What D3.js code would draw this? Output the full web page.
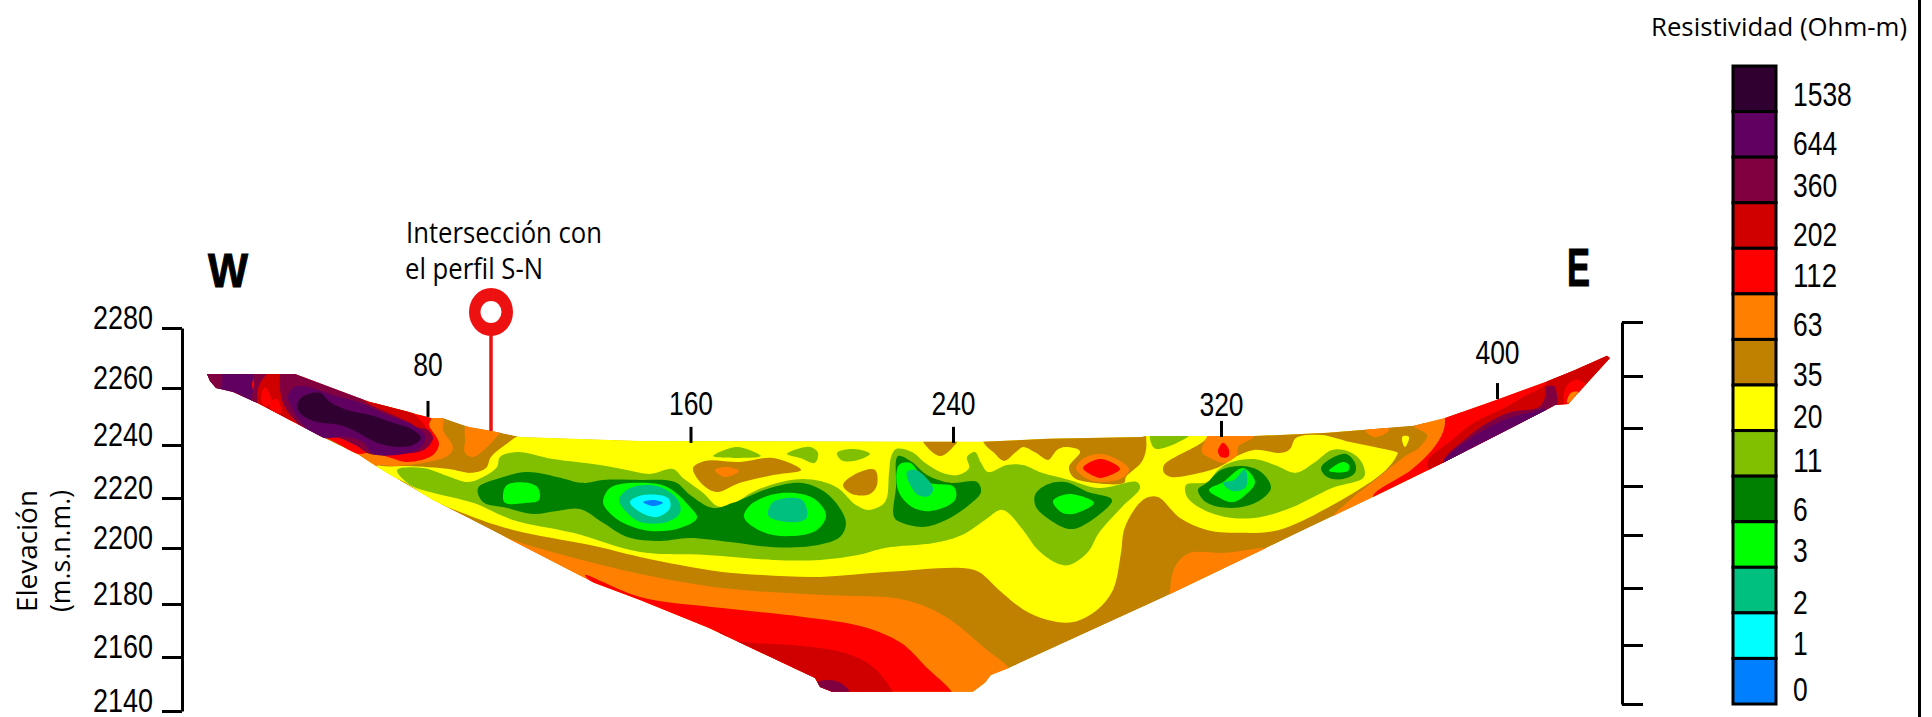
<!DOCTYPE html>
<html><head><meta charset="utf-8">
<style>html,body{margin:0;padding:0;background:#fff;overflow:hidden}svg{display:block}</style>
<script src="https://cdnjs.cloudflare.com/ajax/libs/d3/7.8.5/d3.min.js"></script>
</head><body><div id="chart"></div>
<script>
// Axis values
const elevTicks=[2280,2260,2240,2220,2200,2180,2160,2140];
const distTicks=[80,160,240,320,400];
const surfaceAtTick=[2247.1,2237.5,2237.5,2239.7,2253.7];
const labelElevAtTick=[2262.2,2247.8,2247.8,2247.4,2266.7];
const intersectionDist=99.3, intersectionSurface=2241.9, intersectionTop=2277.5;
// Legend
const levels=[1538,644,360,202,112,63,35,20,11,6,3,2,1,0];
const levelColors=["#300030","#600060","#800040","#d00000","#ff0000","#ff8000","#c08000","#ffff00","#80c000","#008000","#00ff00","#00c080","#00ffff","#0080ff"];
// Section outline [distance m, elevation m]
const sectionOutline=[[14.1,2263],[40.5,2263],[62.7,2252.7],[74.4,2249],[81.3,2246.7],[84.9,2246.7],[92.7,2243.4],[99.6,2241.9],[108,2239.7],[144,2238.2],[228.6,2237.9],[246.9,2237.9],[266.4,2239],[294.6,2239.7],[295.8,2240],[328.2,2240],[350.4,2241.2],[376.2,2243.8],[385.5,2246.7],[400.8,2253.4],[415.8,2260.1],[424.5,2264.5],[434.1,2269.7],[435,2268.9],[422.4,2251.9],[418.5,2251.5],[415.8,2249.7],[384.9,2230.1],[363.9,2217.5],[341.4,2204.2],[300.6,2180.1],[254.7,2154.2],[249.3,2151.6],[247.5,2148.7],[243.9,2145.4],[238.2,2145.4],[207,2145.4],[201.6,2145.4],[198,2147.2],[196.5,2150.5],[164.7,2169],[144,2179.4],[130.2,2185.7],[81.9,2216.4],[66.6,2227.5],[59.7,2233],[48.6,2239.7],[29.1,2252.3],[21.9,2256.3],[16.8,2257.8],[15,2260.4]];
// Contour regions, deep part
const c63Lower=[[84,2214.6],[93.9,2208.2],[105.9,2201.6],[129,2193.4],[144,2189],[168.6,2183.8],[199.2,2181.2],[223.5,2179.4],[235.8,2173.1],[248.1,2160.9],[254.7,2154.2],[258,2146.1],[222,2135],[162,2149.8],[87,2201.6]];
const c63LowerRight=[[298.5,2175.7],[302.4,2180.1],[303.6,2188.6],[305.4,2193.4],[309,2196.8],[319.5,2196.8],[333.6,2198.6],[339,2196],[312,2172]];
const c112Lower=[[127.5,2188.6],[144,2180.5],[168.6,2176.4],[192.9,2173.1],[211.2,2169.4],[222.3,2163.5],[229.8,2154.6],[237.6,2145.3],[240,2138.7],[192,2138.7]];
const c202Lower=[[168,2167.5],[172.2,2164.6],[192.9,2162.3],[205.2,2159.8],[213.9,2154.6],[219.9,2145.3],[222,2138.7],[186,2138.7]];
const c360Lower=[[197.1,2148.7],[202.8,2149.4],[205.8,2147.2],[207,2145.3],[210,2138.7],[196.5,2138.7]];
// Main 20 ohm-m body
const c20Main=[[63,2230.4],[66.6,2228.9],[74.4,2228.9],[86.7,2227.8],[93.3,2226.4],[97.8,2228.2],[99.3,2232.3],[103.5,2236.7],[108.6,2240.8],[120,2244.1],[192,2244.1],[282,2244.1],[342,2244.1],[372,2238.6],[371.4,2233.8],[367.8,2227.5],[350.7,2213.8],[335.7,2205.3],[324.9,2204.2],[314.1,2205.3],[306,2209.7],[299.4,2217.5],[295.8,2217.1],[292.2,2212.7],[289.2,2205.3],[288.3,2196.8],[285.9,2183.1],[281.1,2175.7],[273.9,2171.2],[266.4,2172],[259.2,2175.7],[251.7,2183.1],[245.7,2189.7],[240.6,2191.2],[217.5,2189.7],[198,2187.9],[180.6,2188.6],[168.6,2189.7],[156,2192.3],[144,2195.3],[129,2199.7],[105.9,2205.3],[93.9,2210.1],[81.6,2216.4],[72,2223.8],[60,2227.5]];
// Near-surface 35 ohm-m patches
const c35Notch=[[228.6,2238.6],[234,2232.6],[238.2,2236.3],[239.4,2238.6],[239.4,2242.3],[228.6,2242.3]];
const c35Top=[[246.9,2238.2],[250.2,2233.8],[253.2,2230.8],[256.5,2233.8],[258.9,2236],[262.8,2233.8],[266.4,2231.2],[269.1,2234.9],[271.5,2236],[275.7,2234.9],[276,2233.8],[272.7,2228.6],[273.9,2224.9],[278.4,2223],[289.2,2222.7],[289.8,2224.9],[294.3,2230.1],[295.8,2234.9],[295.8,2241.5],[295.8,2246],[247.5,2246]];
const c35Right=[[312,2244.1],[314.1,2239.7],[301.2,2229.3],[301.2,2226.4],[303.3,2224.9],[315.3,2227.5],[318.9,2229.3],[323.1,2232.6],[328.2,2234.9],[336.6,2233.8],[339,2235.2],[340.8,2239.3],[348.3,2240.4],[357,2237.8],[365.7,2235.6],[371.4,2233.8],[378,2227.5],[384,2242.3]];
const c35BlobA=[[159.9,2228.2],[163.5,2230.8],[174,2230.4],[183.9,2231.9],[192.3,2227.5],[183.9,2225.6],[174,2222.7],[167.1,2219.3],[162.9,2221.9]];
const c35BlobB=[[204.9,2221.9],[209.4,2226.4],[214.5,2227.5],[215.1,2221.9],[213,2218.6],[207.6,2218.6]];
const c63BlobA=[[166.5,2227.5],[170.1,2228.6],[173.7,2227.1],[169.5,2224.9]];
const c63Blob280=[[274.8,2228.2],[277.2,2231.9],[282.3,2233.4],[288.6,2230.4],[290.7,2227.5],[288.6,2224.5],[281.7,2223],[277.2,2224.9]];
const c112Blob280=[[276.9,2228.2],[281.7,2231.5],[285.3,2230.4],[288,2227.8],[282.3,2224.5],[280.2,2225.2]];
const c63Blob320=[[314.1,2239.7],[312.6,2234.1],[316.2,2231.2],[319.5,2230.1],[323.1,2233],[323.4,2236],[328.2,2240],[327,2244.1],[316.5,2244.1]];
const c112Blob320=[[318.9,2237.5],[320.7,2234.9],[320.4,2232.3],[318.3,2232.3],[317.4,2234.5]];
const c20Drop=[[372.9,2240],[374.7,2239.7],[373.5,2236],[372.6,2238.6]];
const c63TopRight=[[361.8,2241.9],[364.5,2239.7],[368.7,2242.3],[366,2246]];
// East flank
const c63East=[[376.2,2243.8],[380.1,2240.4],[378,2236],[373.2,2232.3],[365.7,2224.9],[357,2216.4],[351.6,2210.1],[349.5,2205.3],[372,2209],[390,2234.9],[390,2249.7],[381,2247.8]];
const c112East=[[363.9,2217.5],[375.3,2227.5],[381.6,2234.9],[384.9,2241.5],[385.5,2246.7],[384,2253.4],[438,2275.6],[438,2246],[372,2212.7]];
const c202East=[[380.1,2230.1],[387.6,2238.6],[394.5,2245.2],[403.2,2250.4],[409.5,2254.8],[415.5,2258.9],[417,2262.6],[438,2273.7],[438,2246],[420,2246],[384,2223.8]];
const c112EastSpot=[[421.2,2252.6],[421.8,2258.2],[424.5,2260.8],[427.8,2258.9],[425.7,2254.5],[423,2249.7]];
const c63EastSpot=[[422.1,2252.3],[423.3,2256],[425.7,2256.3],[423.9,2252.6]];
const c360East=[[384.9,2230.4],[391.2,2238.6],[398.7,2245.2],[405.3,2248.9],[413.7,2250.8],[415.5,2254.5],[415.8,2258.2],[418.2,2258.5],[419.1,2255.2],[419.1,2251.5],[417,2246],[387,2223.8]];
const c644East=[[384.9,2230.1],[395.7,2241.1],[403.2,2246],[410.7,2248.6],[415.8,2250],[414,2242.3],[387,2223.8]];
// Conductive zone
const c11Main=[[71.1,2227.5],[78.9,2228.2],[87,2224.9],[92.4,2223],[96.9,2224.9],[101.1,2228.6],[102,2232.3],[107.1,2234.1],[117.9,2231.5],[132,2229.3],[140.1,2227.5],[147,2226],[153.9,2227.8],[156.9,2224.5],[162.9,2219],[167.1,2214.1],[170.1,2213.8],[179.1,2220.1],[192.9,2224.1],[202.8,2221.2],[208.8,2214.5],[212.7,2212.7],[217.5,2215.6],[218.7,2226.4],[219.3,2232.3],[220.8,2235.2],[225.6,2234.1],[229.5,2230.1],[234.6,2226.4],[239.4,2225.6],[242.7,2228.2],[242.1,2232.3],[244.5,2234.1],[246.3,2230.1],[248.4,2226.7],[254.1,2229.3],[258.9,2229.3],[264.6,2226.4],[272.7,2223.8],[281.7,2220.8],[293.1,2223],[294,2220.8],[288.6,2213.8],[281.7,2204.2],[278.4,2197.1],[272.7,2192.3],[269.1,2193],[263.4,2197.9],[258.9,2205.3],[254.1,2211.9],[252,2212.7],[247.5,2209],[240.6,2203.4],[232.5,2200.5],[217.5,2198.6],[209.4,2196],[198,2194.2],[183.9,2194.2],[164.1,2196],[144,2197.1],[123.9,2204.2],[105.9,2209],[93.9,2215.3],[81,2219.3],[75,2221.9]];
const c11Right=[[307.8,2221.9],[308.1,2217.5],[313.2,2212.7],[321.6,2209.7],[330.3,2210.1],[339.9,2213.8],[351.6,2220.8],[361.2,2224.9],[360.6,2230.1],[357,2234.1],[351.6,2234.9],[346.2,2230.1],[340.8,2226.4],[334.5,2229.3],[328.2,2231.5],[321.6,2230.4],[317.4,2227.5],[314.1,2223]];
const c11TopRight=[[297.3,2242.3],[297.9,2236],[299.7,2235.2],[308.7,2240],[310.5,2243]];
const c11SmallA=[[165.9,2232.6],[173.1,2236],[180.3,2232.6],[173.1,2231.9]];
const c11SmallB=[[188.1,2233.4],[195,2236],[197.4,2233.8],[196.5,2230.1],[192,2231.9]];
const c11SmallC=[[203.1,2233.8],[208.2,2235.2],[213,2233.4],[208.2,2230.8],[204.3,2231.2]];
const c6Main=[[95.4,2220.8],[102,2224.5],[110.1,2226.7],[119.1,2224.9],[126.9,2222.7],[132.9,2223.8],[144,2223.8],[154.5,2223],[159,2218.2],[165.9,2213.4],[171.9,2215.3],[183,2220.8],[192,2222.7],[198,2220.4],[202.8,2215.3],[205.8,2207.9],[204,2202.7],[195.3,2199.3],[183,2199],[171,2200.8],[158.7,2202.3],[150,2201.2],[140.1,2202.7],[132.9,2207.9],[126,2213],[119.1,2212.3],[111.9,2211.2],[104.1,2213.4],[96.9,2215.6]];
const c3A=[[102.9,2218.2],[104.1,2221.9],[110.1,2222.7],[113.4,2220.8],[113.7,2216.4],[110.1,2215.3],[103.5,2215.3]];
const c3B=[[132.9,2215.6],[135,2220.8],[143.1,2222.7],[152.1,2221.2],[159,2213.8],[161.1,2209.7],[156,2206],[147,2204.9],[138.9,2207.9],[134.1,2212.7]];
const c3C=[[175.2,2210.1],[177.9,2215.3],[186.9,2219],[195.9,2217.1],[199.8,2210.8],[197.1,2205.3],[189,2203],[180.9,2204.5]];
const c2B=[[137.7,2216.4],[141,2220.8],[149.1,2221.5],[155.4,2216.4],[156,2211.6],[152.1,2208.2],[144,2208.2],[140.1,2211.6]];
const c2C=[[182.4,2210.8],[183.9,2215.6],[192.6,2216.4],[194.1,2210.1],[191.1,2208.2],[183.9,2209.3]];
const c1B=[[141,2215.6],[144.9,2218.2],[152.4,2217.1],[153,2213.4],[149.1,2210.1],[144,2211.9]];
const c0B=[[144.9,2215.6],[147.9,2216.4],[150.9,2215.3],[147.9,2214.1]];
const c6At240=[[221.4,2232.6],[225.6,2230.4],[230.1,2225.6],[237,2222.7],[245.1,2223],[246.3,2219.3],[242.7,2214.5],[235.8,2209],[228.9,2206.4],[222.6,2207.9],[220.2,2210.1],[220.8,2221.2]];
const c3At240=[[221.7,2229.3],[225,2230.1],[230.1,2223],[238.2,2221.2],[238.5,2216.4],[231.3,2212.3],[225.6,2213.8],[221.4,2220.1]];
const c2At240=[[224.1,2226.7],[226.8,2227.5],[231.9,2220.8],[230.7,2217.8],[227.4,2218.2],[224.7,2222.7]];
const c6At270=[[262.5,2218.2],[265.8,2221.9],[271.5,2223],[278.4,2219.3],[285.6,2216.4],[279.6,2209],[273.3,2205.6],[267,2209],[262.8,2213.8]];
const c3At270=[[267.9,2216],[272.7,2218.6],[280.2,2215.3],[273.9,2211.2],[270.3,2211.9]];
const c6At320=[[311.4,2220.1],[314.1,2222.7],[318.3,2227.5],[324.9,2228.9],[330.3,2226.7],[333.3,2220.8],[329.1,2215.6],[321.6,2213.4],[314.1,2215.3]];
const c3At320=[[314.7,2220.1],[318.9,2223],[324.9,2228.2],[328.5,2223],[324.9,2217.5],[321.6,2215.6],[317.4,2217.5]];
const c2At320=[[318.9,2222.7],[322.2,2223.8],[325.5,2227.8],[325.8,2221.2],[321.6,2219.7]];
const c6At355=[[348.3,2228.2],[351.6,2231.9],[355.8,2233.4],[358.5,2230.1],[358.5,2226.4],[354.9,2224.1],[350.1,2224.9]];
const c3At355=[[350.7,2227.1],[354.9,2230.4],[356.7,2229.3],[356.4,2227.1]];
// West flank
const c63Patch=[[91.5,2243.4],[93,2247.8],[103.5,2244.1],[102,2241.2],[97.8,2235.6],[93.9,2232.3],[91.5,2233.8],[91.5,2238.6]];
const c63West=[[79.5,2249.7],[84.9,2246.7],[84.9,2242.3],[87.9,2236],[86.7,2233],[79.2,2230.1],[69.6,2228.9],[66,2229.3],[63.3,2228.2],[60,2231.9],[54,2238.6],[66,2253.4]];
const c112West=[[74.4,2249],[81.3,2246.7],[80.7,2244.1],[83.7,2237.4],[81.9,2233],[74.4,2230.4],[68.4,2232.3],[62.7,2233.8],[59.7,2233.4],[48.6,2239.7],[42,2238.6],[12,2253.4],[12,2266.3],[42,2266.3],[72,2253.4]];
const c644WestEnd=[[12,2266.3],[28.8,2266.3],[27.6,2258.9],[29.1,2252.3],[27,2249.7],[12,2253.4]];
const c360WestStrip=[[28.2,2265.2],[33,2265.2],[30.3,2260],[29.4,2257.1],[29.1,2252.3],[27,2249.7],[28.2,2258.9]];
const c360WestTip=[[14.4,2263.7],[18.3,2263.7],[18,2257.8],[14.4,2257.8]];
const c202West=[[29.1,2252.3],[29.4,2257.1],[30.3,2260],[33,2263.7],[36.9,2264.5],[36.9,2255.2],[39,2247.8],[42,2241.5],[36,2242.3],[27,2249.7]];
const c112SpotA=[[31.5,2258.2],[33.3,2253.4],[31.5,2250.8],[30.3,2254.1]];
const c112SpotB=[[32.7,2252.3],[35.1,2253.7],[36.3,2248.6],[33.9,2248.9]];
const c202Ring=[[60,2255.2],[70.5,2253.4],[75,2249.7],[78.3,2245.6],[80.7,2241.5],[81.9,2238.6],[78,2238.6],[66,2246]];
const c360West=[[36.6,2265.2],[36.6,2253.4],[40.8,2245.2],[46.5,2239.3],[52.5,2239.7],[58.5,2236.7],[63,2233.4],[69.6,2233.4],[79.2,2234.9],[81.9,2239.3],[80.4,2242.3],[76.8,2243.4],[74.4,2245.2],[68.4,2248.6],[62.7,2251.9],[57,2257.1],[40.5,2266.3]];
const c644West=[[38.4,2254.5],[39.9,2257.8],[42.9,2258.5],[51.9,2255.2],[60,2252.3],[68.1,2247.8],[75.9,2244.1],[79.5,2240.4],[78.9,2236.7],[75.9,2234.2],[63.9,2233.4],[60.9,2237.8],[56.1,2239.7],[48.9,2239.3],[45,2241.5],[41.1,2247.1]];
const c1538West=[[41.1,2250.8],[42.6,2254.5],[48,2256],[51,2252.6],[56.1,2249.7],[63,2247.8],[69.9,2244.9],[75.9,2242.3],[78.3,2239.3],[75.9,2236.7],[71.1,2236],[65.1,2237.5],[59.1,2241.5],[54,2244.1],[47.1,2245.2],[42.6,2247.8]];

// Paint order: each region is [resistivity level, coordinates]
const regions=[
[63,c63Lower],[63,c63LowerRight],[112,c112Lower],[202,c202Lower],[360,c360Lower],
[20,c20Main],[35,c35Notch],[35,c35Top],[35,c35Right],
[63,c63Patch],[63,c63West],[112,c112West],[644,c644WestEnd],[360,c360WestStrip],[360,c360WestTip],[202,c202West],[112,c112SpotA],[112,c112SpotB],[202,c202Ring],[360,c360West],[644,c644West],[1538,c1538West],
[63,c63East],[63,c63TopRight],[112,c112East],[202,c202East],[112,c112EastSpot],[63,c63EastSpot],[360,c360East],[644,c644East],[20,c20Drop],
[11,c11Main],[11,c11Right],[11,c11TopRight],[11,c11SmallA],[11,c11SmallB],[11,c11SmallC],
[35,c35BlobA],[35,c35BlobB],[63,c63BlobA],[63,c63Blob280],[112,c112Blob280],[63,c63Blob320],[112,c112Blob320],
[6,c6Main],[3,c3A],[3,c3B],[3,c3C],[2,c2B],[2,c2C],[1,c1B],[0,c0B],
[6,c6At240],[3,c3At240],[2,c2At240],[6,c6At270],[3,c3At270],
[6,c6At320],[3,c3At320],[2,c2At320],[6,c6At355],[3,c3At355]
];

// Layout
const W=1932,H=717;
const SANS="'Liberation Sans',sans-serif", OPEN="'Open Sans',sans-serif";
const DIGIT_W=14.7;
const x=d3.scaleLinear([0,480],[160,1760]);
const y=d3.scaleLinear([2280,2100],[328,814.49]);
// The printed ticks of the figure are hand placed, slightly uneven
const xTickScale=d3.scaleLinear(distTicks,[428,691,953.5,1221.5,1497.5]);
const yLeftScale=d3.scaleLinear(elevTicks,[328,388,445,498,548,604,657,711]);
const yRightScale=d3.scaleLinear(elevTicks,[322,376,428,486,535,588,645,704]);
const color=d3.scaleOrdinal(levels,levelColors);
const svg=d3.select("#chart").append("svg").attr("width",W).attr("height",H).attr("viewBox",`0 0 ${W} ${H}`).style("background","#fff");

const outlinePath=d3.line().x(d=>x(d[0])).y(d=>y(d[1])).curve(d3.curveLinearClosed);
const smoothPath=d3.line().x(d=>x(d[0])).y(d=>y(d[1])).curve(d3.curveCatmullRomClosed.alpha(0.5));
svg.append("clipPath").attr("id","sec").append("path").attr("d",outlinePath(sectionOutline));
const g=svg.append("g").attr("clip-path","url(#sec)");
g.append("path").attr("d",outlinePath(sectionOutline)).attr("fill",color(35));
g.selectAll("path.r").data(regions).join("path").attr("class","r").attr("d",d=>smoothPath(d[1])).attr("fill",d=>color(d[0]));

const digitLen=d=>String(d).length*DIGIT_W;
// Left axis
const axL=svg.append("g").attr("transform","translate(182,0)").call(d3.axisLeft(yLeftScale).tickValues(elevTicks).tickSize(20).tickSizeOuter(0).tickPadding(9).tickFormat(d3.format("d")));
axL.selectAll("path,line").attr("stroke","#000").attr("stroke-width",3);
axL.selectAll("text").attr("dy",0).attr("fill","#000").style("font-family",SANS).style("font-size","33.5px").attr("textLength",60).attr("lengthAdjust","spacingAndGlyphs");
// Right axis
const axR=svg.append("g").attr("transform","translate(1622,0)").call(d3.axisRight(yRightScale).tickValues(elevTicks).tickSize(21).tickSizeOuter(0).tickFormat(""));
axR.selectAll("path,line").attr("stroke","#000").attr("stroke-width",3);

// Distance ticks sitting on the terrain surface
const distG=svg.append("g");
distG.selectAll("line").data(distTicks).join("line")
 .attr("x1",d=>xTickScale(d)).attr("x2",d=>xTickScale(d))
 .attr("y1",(d,i)=>y(surfaceAtTick[i])).attr("y2",(d,i)=>y(surfaceAtTick[i])-16)
 .attr("stroke","#000").attr("stroke-width",3);
distG.selectAll("text").data(distTicks).join("text")
 .attr("x",d=>xTickScale(d)).attr("y",(d,i)=>y(labelElevAtTick[i]))
 .attr("text-anchor","middle").style("font-family",SANS).style("font-size","33.5px")
 .attr("textLength",digitLen).attr("lengthAdjust","spacingAndGlyphs").text(d=>d);

// Intersection pin
const pinX=x(intersectionDist);
svg.append("line").attr("x1",pinX).attr("x2",pinX).attr("y1",y(intersectionTop)).attr("y2",y(intersectionSurface)).attr("stroke","#ee1111").attr("stroke-width",3.5);
svg.append("ellipse").attr("cx",pinX).attr("cy",312).attr("rx",22).attr("ry",24).attr("fill","#ee1111");
svg.append("ellipse").attr("cx",pinX).attr("cy",312).attr("rx",10.5).attr("ry",11).attr("fill","#fff");

// Text annotations
function label(t,xx,yy,size,fam,len,weight){
 const s=svg.append("text").attr("x",xx).attr("y",yy).style("font-family",fam).style("font-size",size+"px").attr("fill","#000").text(t);
 if(len) s.attr("textLength",len).attr("lengthAdjust","spacingAndGlyphs");
 if(weight) s.style("font-weight",weight);
 return s;
}
label("W",208,287,49,SANS,40,"bold").attr("stroke","#000").attr("stroke-width",1);
label("E",1567,286,53,SANS,23,"bold").attr("stroke","#000").attr("stroke-width",1);
label("Intersección con",406,243,30,OPEN,196);
label("el perfil S-N",405,279,30,OPEN,138);
svg.append("text").attr("transform","translate(37,612) rotate(-90)").style("font-family",OPEN).style("font-size","28px").attr("textLength",122).attr("lengthAdjust","spacingAndGlyphs").text("Elevación");
svg.append("text").attr("transform","translate(70,612) rotate(-90)").style("font-family",OPEN).style("font-size","28px").attr("textLength",122).attr("lengthAdjust","spacingAndGlyphs").text("(m.s.n.m.)");

// Colour bar
const band=d3.scaleBand(levels,[66,704]);
svg.append("g").selectAll("rect").data(levels).join("rect")
 .attr("x",1733).attr("width",43).attr("y",d=>band(d)).attr("height",band.bandwidth())
 .attr("fill",d=>color(d)).attr("stroke","#000").attr("stroke-width",3);
const legendBaselines=[106,154.5,196.6,246,287,336,385.5,427.5,472,521,562.4,614,654.8,701];
svg.append("g").selectAll("text").data(levels).join("text")
 .attr("x",1793).attr("y",(d,i)=>legendBaselines[i])
 .style("font-family",SANS).style("font-size","33px")
 .attr("textLength",digitLen).attr("lengthAdjust","spacingAndGlyphs").text(d=>d);
label("Resistividad (Ohm-m)",1651,36,26,OPEN,256);

// Frame line at right of the figure
svg.append("line").attr("x1",1919.5).attr("x2",1919.5).attr("y1",0).attr("y2",H).attr("stroke","#000").attr("stroke-width",3);
</script></body></html>
